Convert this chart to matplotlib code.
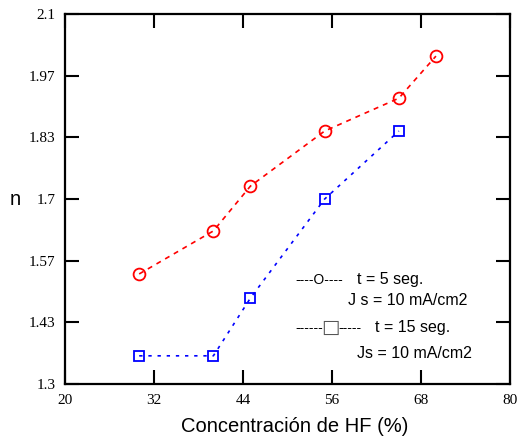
import matplotlib
matplotlib.use("Agg")
import matplotlib.pyplot as plt
import numpy as np

# datos
conc = [30, 40, 45, 55, 65, 70]
n_5seg = [1.538, 1.631, 1.728, 1.847, 1.918, 2.009]
conc_15 = [30, 40, 45, 55, 65]
n_15seg = [1.361, 1.361, 1.486, 1.700, 1.847]

xticks = [20, 32, 44, 56, 68, 80]
yticks = np.linspace(1.3, 2.1, 7)
ylabels = ["1.3", "1.43", "1.57", "1.7", "1.83", "1.97", "2.1"]

fig = plt.figure(figsize=(5.2, 4.45), dpi=100)
ax = fig.add_axes([0.125, 0.137, 0.856, 0.8315])

ax.plot(conc, n_5seg, color="red", linestyle=(0, (3, 3)), linewidth=1.2,
        marker="o", markersize=8.5, markerfacecolor="none", markeredgewidth=1.3)
ax.plot(conc_15, n_15seg, color="blue", linestyle=(0, (2, 3.5)), linewidth=1.2,
        marker="s", markersize=7.5, markerfacecolor="none", markeredgewidth=1.3)

ax.set_xlim(20, 80)
ax.set_ylim(1.3, 2.1)
ax.set_xticks(xticks)
ax.set_yticks(yticks)
ax.set_yticklabels(ylabels)
ax.tick_params(direction="in", length=10, width=1.5, top=True, right=True,
               labelsize=11, pad=7)
for lab in ax.get_xticklabels() + ax.get_yticklabels():
    lab.set_family("Liberation Serif")
for s in ax.spines.values():
    s.set_linewidth(1.6)

ax.set_xlabel("Concentración de HF (%)", fontsize=14.5, family="Liberation Sans")
ax.xaxis.set_label_coords(0.517, -0.09)
ax.set_ylabel("n", fontsize=14.5, family="Liberation Sans", rotation=0, va="center", ha="center")
ax.yaxis.set_label_coords(-0.112, 0.5)

# leyenda hecha a mano
lf = dict(fontsize=11.5, family="Liberation Sans", transform=ax.transAxes, va="center")
df = dict(fontsize=10, family="Liberation Sans", transform=ax.transAxes, va="center")
ax.text(0.517, 0.282, "----O----", **df)
ax.text(0.656, 0.282, "t = 5 seg.", **lf)
ax.text(0.636, 0.226, "J s = 10 mA/cm2", **lf)
ax.text(0.517, 0.152, "------", **df)
ax.text(0.597, 0.152, "\u25a1", fontsize=14, family="DejaVu Sans", color="#555555",
        transform=ax.transAxes, va="center", ha="center")
ax.text(0.614, 0.152, "-----", **df)
ax.text(0.697, 0.152, "t = 15 seg.", **lf)
ax.text(0.656, 0.082, "Js = 10 mA/cm2", **lf)

fig.savefig("out.png", dpi=100)
